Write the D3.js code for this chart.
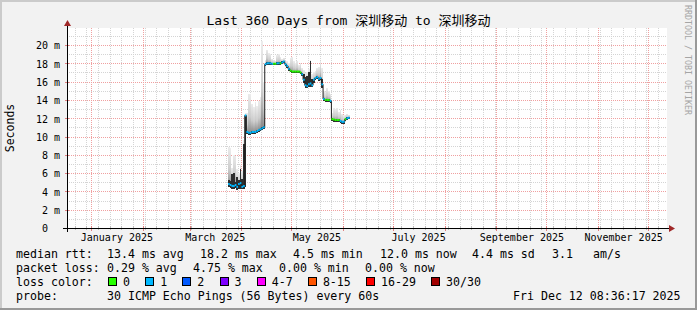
<!DOCTYPE html>
<html>
<head>
<meta charset="utf-8">
<script src="https://cdn.jsdelivr.net/npm/d3@7"></script>
<style>
  body { margin: 0; background: #f2f2f2; }
  svg { display: block; }
  text { font-family: "DejaVu Sans Mono", "Noto Sans CJK SC", monospace; fill: #000; }
</style>
</head>
<body>
<div id="chart"></div>
<script>
// 1: DATA
const dates = [
  "2025-03-24","2025-03-25","2025-03-26","2025-03-27","2025-03-28","2025-03-29","2025-03-30","2025-03-31",
  "2025-04-01","2025-04-02","2025-04-03","2025-04-04","2025-04-05","2025-04-06","2025-04-07","2025-04-08",
  "2025-04-09","2025-04-10","2025-04-11","2025-04-12","2025-04-13","2025-04-14","2025-04-15","2025-04-16",
  "2025-04-17","2025-04-18","2025-04-19","2025-04-20","2025-04-21","2025-04-22","2025-04-23","2025-04-24",
  "2025-04-25","2025-04-26","2025-04-27","2025-04-28","2025-04-29","2025-04-30",
  "2025-05-01","2025-05-02","2025-05-03","2025-05-04","2025-05-05","2025-05-06","2025-05-07","2025-05-08",
  "2025-05-09","2025-05-10","2025-05-11","2025-05-12","2025-05-13","2025-05-14","2025-05-15","2025-05-16",
  "2025-05-17","2025-05-18","2025-05-19","2025-05-20","2025-05-21","2025-05-22","2025-05-23","2025-05-24",
  "2025-05-25","2025-05-26","2025-05-27","2025-05-28","2025-05-29","2025-05-30","2025-05-31",
  "2025-06-01","2025-06-02","2025-06-03","2025-06-04"
];
// median rtt in ms
const median = [
  4.8, 4.7, 4.6, 4.6, 4.7, 4.5, 4.8, 4.9,
  4.5, 4.6, 12.3, 10.5, 10.4, 10.4, 10.5, 10.5, 10.5, 10.6, 10.7, 10.8, 10.9, 11.0,
  17.9, 18.0, 18.0, 18.0, 17.95, 17.95, 17.95, 18.0, 18.0, 18.0, 18.1, 18.2, 17.9, 17.7, 17.4, 17.2,
  17.1, 17.1, 17.1, 17.1, 17.1, 17.0, 16.8, 16.2, 15.6, 15.5, 15.7, 15.8, 15.6,
  16.2, 16.4, 16.5, 16.3, 16.4, 15.7, 14.1, 14.0, 14.0, 14.0, 13.9,
  11.9, 11.85, 11.8, 11.8, 11.8, 11.7, 11.6,
  11.6, 11.9, 12.0, 12.05
];
// lost pings out of 30
const loss = [
  1, 1, 1, 1, 1, 1, 1, 1,
  1, 1, 1, 1, 1, 1, 1, 1, 1, 1, 1, 1, 1, 1,
  1, 1, 1, 1, 1, 0, 0, 1, 1, 0, 1, 1, 1, 1, 1, 0,
  0, 0, 0, 0, 0, 0, 1, 1, 1, 1, 1, 1, 1,
  1, 1, 1, 1, 1, 1, 1, 0, 0, 0, 1,
  0, 0, 0, 0, 0, 1, 1,
  1, 0, 1, 1
];
// smoke: lowest ping, top of the dense core, highest ping (ms)
const smokeLo = [
  4.5, 4.4, 4.3, 4.3, 4.4, 4.2, 4.3, 4.3,
  4.3, 4.3, 4.5, 10.3, 10.2, 10.2, 10.3, 10.3, 10.3, 10.4, 10.5, 10.6, 10.7, 10.8,
  17.7, 17.8, 17.8, 17.8, 17.8, 17.8, 17.8, 17.8, 17.8, 17.8, 17.9, 18.0, 17.7, 17.5, 17.2, 17.0,
  16.9, 16.9, 16.9, 16.9, 16.9, 16.8, 16.6, 15.8, 15.3, 15.3, 15.4, 15.4, 15.4,
  15.9, 16.2, 16.3, 16.1, 16.2, 15.3, 13.9, 13.8, 13.8, 13.8, 13.7,
  11.7, 11.6, 11.6, 11.6, 11.6, 11.5, 11.4,
  11.4, 11.7, 11.8, 11.9
];
const smokeDense = [
  5.3, 5.1, 5.9, 6.0, 5.0, 5.6, 5.2, 6.5,
  5.4, 9.2, 12.4, 10.6, 10.5, 10.5, 10.6, 10.6, 10.6, 10.7, 10.8, 10.9, 11.0, 11.1,
  18.0, 18.1, 18.1, 18.1, 18.05, 18.05, 18.05, 18.1, 18.1, 18.1, 18.2, 18.3, 18.0, 17.8, 17.5, 17.3,
  17.2, 17.2, 17.2, 17.2, 17.2, 17.1, 16.9, 16.8, 16.5, 16.6, 17.0, 18.2, 16.3,
  16.3, 16.5, 16.6, 16.4, 16.5, 16.3, 14.2, 14.1, 14.1, 14.1, 14.0,
  12.0, 11.95, 11.9, 11.9, 11.9, 11.8, 11.7,
  11.7, 12.0, 12.1, 12.15
];
const smokeHi = [
  8.8, 8.7, 6.6, 8.0, 7.9, 6.4, 6.0, 6.9,
  6.2, 9.6, 12.6, 12.6, 14.7, 14.6, 13.6, 13.2, 13.8, 13.3, 13.9, 14.3, 20.4, 16.0,
  18.4, 19.5, 19.1, 19.0, 18.5, 18.4, 18.3, 18.9, 19.0, 18.7, 18.5, 18.6, 18.3, 18.2, 18.0, 18.6,
  18.7, 18.2, 18.0, 18.3, 17.8, 18.0, 17.5, 17.3, 16.9, 17.0, 17.4, 18.4, 16.8,
  17.0, 17.2, 17.5, 17.6, 18.3, 17.5, 15.0, 14.9, 15.3, 15.0, 14.7,
  12.6, 13.1, 13.0, 13.1, 12.7, 12.9, 12.5,
  12.3, 12.4, 12.5, 12.4
];

const yTicks = [0, 2, 4, 6, 8, 10, 12, 14, 16, 18, 20];
const labelMonths = ["2025-01-01", "2025-03-01", "2025-05-01", "2025-07-01", "2025-09-01", "2025-11-01"];
const lossLabels = ["0", "1", "2", "3", "4-7", "8-15", "16-29", "30/30"];
const lossColors = ["#26ff00", "#00b8ff", "#0059ff", "#7e00ff", "#ff00ff", "#ff5500", "#ff0000", "#a10000"];
const rttStats = ["13.4 ms avg", "18.2 ms max", "4.5 ms min", "12.0 ms now", "4.4 ms sd", "3.1", "am/s"];
const lossStats = ["0.29 % avg", "4.75 % max", "0.00 % min", "0.00 % now"];
const probeText = "30 ICMP Echo Pings (56 Bytes) every 60s";
const stampText = "Fri Dec 12 08:36:17 2025";
const titleText = "Last 360 Days from 深圳移动 to 深圳移动";

// 2: LAYOUT
const W = 697, H = 310;
const plot = { left: 67, top: 28, width: 600, height: 200 };
const rttCols = [107, 200, 293, 380, 472, 552, 593];
const lossCols = [107, 193, 279, 365];
const legendFont = 11.6;

const parse = d3.utcParse("%Y-%m-%d");
const data = dates.map((s, i) => ({
  date: parse(s), med: median[i], loss: loss[i],
  lo: smokeLo[i], dense: smokeDense[i], hi: smokeHi[i]
}));
const nextDay = d => d3.utcDay.offset(d, 1);

const x = d3.scaleUtc()
  .domain([new Date(Date.UTC(2024, 11, 17, 8, 36, 17)), new Date(Date.UTC(2025, 11, 12, 8, 36, 17))])
  .range([plot.left, plot.left + plot.width]);
const y = d3.scaleLinear()
  .domain([0, 21.86])
  .range([plot.top + plot.height, plot.top]);

function lossIndex(n) {
  if (n <= 3) return n;
  if (n <= 7) return 4;
  if (n <= 15) return 5;
  if (n <= 29) return 6;
  return 7;
}

const svg = d3.select("#chart").append("svg")
  .attr("width", W)
  .attr("height", H);

// background and 3d frame
svg.append("rect").attr("width", W).attr("height", H).attr("fill", "#f2f2f2");
svg.append("rect").attr("width", W).attr("height", 2).attr("fill", "#cbcbcb");
svg.append("rect").attr("width", 2).attr("height", H).attr("fill", "#cbcbcb");
svg.append("rect").attr("x", W - 2).attr("width", 2).attr("height", H).attr("fill", "#999");
svg.append("rect").attr("y", H - 2).attr("width", W).attr("height", 2).attr("fill", "#999");

const defs = svg.append("defs");
const grad = defs.append("linearGradient").attr("id", "smoke")
  .attr("x1", 0).attr("y1", 0).attr("x2", 0).attr("y2", 1);
grad.append("stop").attr("offset", 0).attr("stop-color", "#ececec");
grad.append("stop").attr("offset", 0.55).attr("stop-color", "#cdcdcd");
grad.append("stop").attr("offset", 1).attr("stop-color", "#858585");

// canvas
svg.append("rect")
  .attr("x", plot.left).attr("y", plot.top)
  .attr("width", plot.width).attr("height", plot.height)
  .attr("fill", "#fff");

// 3: GRID
const grid = svg.append("g").attr("shape-rendering", "crispEdges");
const px = v => Math.round(v) + 0.5;

const weeks = d3.utcSunday.range(x.domain()[0], x.domain()[1]);
const months = d3.utcMonth.range(x.domain()[0], x.domain()[1]);
const minorY = d3.range(1, 22, 1).filter(v => v % 2 !== 0);

grid.selectAll("line.vminor").data(weeks).join("line")
  .attr("x1", d => px(x(d))).attr("x2", d => px(x(d)))
  .attr("y1", plot.top).attr("y2", plot.top + plot.height)
  .attr("stroke", "#d4d4d4").attr("stroke-dasharray", "1,1");
grid.selectAll("line.hminor").data(minorY).join("line")
  .attr("x1", plot.left).attr("x2", plot.left + plot.width)
  .attr("y1", d => px(y(d))).attr("y2", d => px(y(d)))
  .attr("stroke", "#d4d4d4").attr("stroke-dasharray", "1,1");
grid.selectAll("line.vmajor").data(months).join("line")
  .attr("x1", d => px(x(d))).attr("x2", d => px(x(d)))
  .attr("y1", plot.top).attr("y2", plot.top + plot.height)
  .attr("stroke", "#f0a0a0").attr("stroke-dasharray", "1,1");
grid.selectAll("line.hmajor").data(yTicks.filter(v => v > 0)).join("line")
  .attr("x1", plot.left).attr("x2", plot.left + plot.width)
  .attr("y1", d => px(y(d))).attr("y2", d => px(y(d)))
  .attr("stroke", "#f0a0a0").attr("stroke-dasharray", "1,1");

// 4: SMOKE + MEDIAN
const marks = svg.append("g");
marks.selectAll("rect.smoke").data(data).join("rect")
  .attr("class", "smoke")
  .attr("x", d => x(d.date))
  .attr("width", d => x(nextDay(d.date)) - x(d.date))
  .attr("y", d => y(d.hi))
  .attr("height", d => y(d.lo) - y(d.hi))
  .attr("fill", "url(#smoke)")
  .attr("shape-rendering", "crispEdges");
marks.selectAll("rect.dense").data(data).join("rect")
  .attr("class", "dense")
  .attr("x", d => x(d.date))
  .attr("width", d => x(nextDay(d.date)) - x(d.date))
  .attr("y", d => y(d.dense))
  .attr("height", d => y(d.lo) - y(d.dense))
  .attr("fill", "#2e2e2e")
  .attr("shape-rendering", "crispEdges");

const last = data[data.length - 1];
const lineData = data.concat([{ date: nextDay(last.date), med: last.med }]);
marks.append("path")
  .datum(lineData)
  .attr("d", d3.line().x(d => x(d.date)).y(d => y(d.med)).curve(d3.curveStepAfter))
  .attr("fill", "none")
  .attr("stroke", "#202020")
  .attr("stroke-width", 1);

marks.selectAll("line.med").data(data).join("line")
  .attr("class", "med")
  .attr("x1", d => x(d.date))
  .attr("x2", d => x(nextDay(d.date)))
  .attr("y1", d => y(d.med))
  .attr("y2", d => y(d.med))
  .attr("stroke", d => lossColors[lossIndex(d.loss)])
  .attr("stroke-width", 2);

// 5: AXES
const axisY0 = plot.top + plot.height;
const axes = svg.append("g").attr("shape-rendering", "crispEdges");
axes.selectAll("line.tmin").data(weeks).join("line")
  .attr("x1", d => px(x(d))).attr("x2", d => px(x(d)))
  .attr("y1", axisY0 - 2).attr("y2", axisY0 + 2).attr("stroke", "#bbb");
axes.selectAll("line.tmaj").data(months).join("line")
  .attr("x1", d => px(x(d))).attr("x2", d => px(x(d)))
  .attr("y1", axisY0 - 2).attr("y2", axisY0 + 3).attr("stroke", "#e08080");
axes.selectAll("line.ymaj").data(yTicks.filter(v => v > 0)).join("line")
  .attr("x1", plot.left - 2).attr("x2", plot.left + 2)
  .attr("y1", d => px(y(d))).attr("y2", d => px(y(d))).attr("stroke", "#e08080");
axes.append("line")
  .attr("x1", plot.left - 4).attr("x2", plot.left + plot.width + 3)
  .attr("y1", px(axisY0)).attr("y2", px(axisY0)).attr("stroke", "#000");
axes.append("line")
  .attr("x1", px(plot.left)).attr("x2", px(plot.left))
  .attr("y1", axisY0 + 4).attr("y2", plot.top - 3).attr("stroke", "#000");
svg.append("path")
  .attr("d", `M${plot.left + plot.width + 8},${axisY0 + 0.5} l-6,-3.5 v7 z`)
  .attr("fill", "#a02828");
svg.append("path")
  .attr("d", `M${plot.left + 0.5},${plot.top - 8} l-3.5,6 h7 z`)
  .attr("fill", "#a02828");

const yAxis = svg.append("g")
  .attr("transform", `translate(${plot.left},0)`)
  .call(d3.axisLeft(y).tickValues(yTicks).tickSize(0).tickPadding(7)
    .tickFormat(d => d === 0 ? "0\u00a0\u00a0" : d + " m"));
yAxis.select(".domain").remove();
yAxis.selectAll("text")
  .attr("font-family", "DejaVu Sans Mono")
  .attr("font-size", 10)
  .attr("dy", "0.38em")
  .style("white-space", "pre");

const xAxis = svg.append("g")
  .attr("transform", `translate(0,${axisY0})`)
  .call(d3.axisBottom(x)
    .tickValues(labelMonths.map(s => d3.utcDay.offset(parse(s), 15)))
    .tickSize(0).tickPadding(6)
    .tickFormat(d3.utcFormat("%B %Y")));
xAxis.select(".domain").remove();
xAxis.selectAll("text")
  .attr("font-family", "DejaVu Sans Mono")
  .attr("font-size", 10);

// 6: LABELS
svg.append("text")
  .attr("x", W / 2)
  .attr("y", 25)
  .attr("text-anchor", "middle")
  .attr("font-size", 13)
  .text(titleText);

svg.append("text")
  .attr("transform", `translate(14,${plot.top + plot.height / 2}) rotate(-90)`)
  .attr("text-anchor", "middle")
  .attr("font-size", 11.5)
  .text("Seconds");

svg.append("text")
  .attr("transform", "translate(685,5) rotate(90)")
  .attr("font-size", 8.3)
  .style("fill", "#a5a5a5")
  .text("RRDTOOL / TOBI OETIKER");

// 7: LEGEND
const legend = svg.append("g").attr("font-size", legendFont);
const rowY = [258, 272, 286, 300];
legend.append("text").attr("x", 16).attr("y", rowY[0]).text("median rtt:");
legend.selectAll("text.rtt").data(rttStats).join("text")
  .attr("class", "rtt")
  .attr("x", (d, i) => rttCols[i]).attr("y", rowY[0]).text(d => d);

legend.append("text").attr("x", 16).attr("y", rowY[1]).text("packet loss:");
legend.selectAll("text.loss").data(lossStats).join("text")
  .attr("class", "loss")
  .attr("x", (d, i) => lossCols[i]).attr("y", rowY[1]).text(d => d);

legend.append("text").attr("x", 16).attr("y", rowY[2]).text("loss color:");
let lx = 108;
lossLabels.forEach((lab, i) => {
  legend.append("rect")
    .attr("x", lx + 0.5).attr("y", rowY[2] - 8.5)
    .attr("width", 8).attr("height", 8)
    .attr("fill", lossColors[i])
    .attr("stroke", "#000")
    .attr("shape-rendering", "crispEdges");
  const t = legend.append("text").attr("x", lx + 15).attr("y", rowY[2]).text(lab);
  lx = lx + 15 + t.node().getComputedTextLength() + 15.2;
});

legend.append("text").attr("x", 16).attr("y", rowY[3]).text("probe:");
legend.append("text").attr("x", 107).attr("y", rowY[3]).text(probeText);
legend.append("text").attr("x", 513).attr("y", rowY[3]).text(stampText);
</script>
</body>
</html>
